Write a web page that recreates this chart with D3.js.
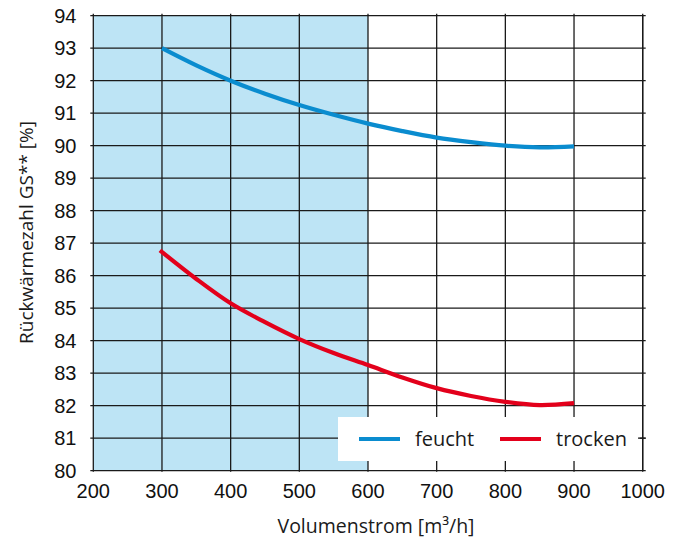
<!DOCTYPE html>
<html><head><meta charset="utf-8">
<script src="https://cdn.jsdelivr.net/npm/d3@7"></script>
<style>body{margin:0;background:#fff}</style>
</head><body>
<svg id="c" width="687" height="543"></svg>
<script>
const xTicks = [200,300,400,500,600,700,800,900,1000];
const yTicks = [80,81,82,83,84,85,86,87,88,89,90,91,92,93,94];
const feuchtX = [300,350,400,450,500,550,600,650,700,750,800,850,900];
const feuchtY = [93.0,92.47,92.0,91.6,91.25,90.95,90.68,90.45,90.25,90.11,90.0,89.95,89.98];
const trockenX = [297,350,400,450,500,550,600,650,700,750,800,850,900];
const trockenY = [86.78,85.9,85.15,84.57,84.05,83.62,83.25,82.87,82.54,82.3,82.12,82.02,82.08];
const shadeRange = [200,600];
const series = [
  {name:"feucht", xs:feuchtX, ys:feuchtY, color:"#0a8ccf"},
  {name:"trocken", xs:trockenX, ys:trockenY, color:"#e3001b"}
];

const svg = d3.select("#c");
const L=93.3, R=642.7, T=15.7, B=470.7;
const x = d3.scaleLinear().domain([200,1000]).range([L,R]);
const y = d3.scaleLinear().domain([80,94]).range([B,T]);

// shaded area
svg.append("rect").attr("x",x(shadeRange[0])).attr("y",T)
  .attr("width",x(shadeRange[1])-x(shadeRange[0])).attr("height",B-T)
  .attr("fill","#bde4f5");

// grid
const g = svg.append("g").attr("stroke","#1a1a1a").attr("stroke-width",1.3);
yTicks.forEach(v=>{
  g.append("line").attr("x1",L-3).attr("x2",R+3).attr("y1",y(v)).attr("y2",y(v));
});
xTicks.forEach(v=>{
  g.append("line").attr("x1",x(v)).attr("x2",x(v)).attr("y1",T-2).attr("y2",B+1);
});

// curves
const line = d3.line().x(d=>x(d[0])).y(d=>y(d[1])).curve(d3.curveCatmullRom);
series.forEach(s=>{
  svg.append("path").datum(s.xs.map((v,i)=>[v,s.ys[i]]))
    .attr("d",line).attr("fill","none").attr("stroke",s.color).attr("stroke-width",4.2);
});

// legend
svg.append("rect").attr("x",338).attr("y",417).attr("width",300).attr("height",44).attr("fill","#fff");
svg.append("line").attr("x1",R-3).attr("x2",R+3).attr("y1",y(81)).attr("y2",y(81)).attr("stroke","#1a1a1a").attr("stroke-width",1.3);
svg.append("line").attr("x1",R).attr("x2",R).attr("y1",T).attr("y2",B).attr("stroke","#1a1a1a").attr("stroke-width",1.3);
const legX = [359,500];
series.forEach((s,i)=>{
  svg.append("line").attr("x1",legX[i]).attr("x2",legX[i]+41).attr("y1",439).attr("y2",439)
    .attr("stroke",s.color).attr("stroke-width",4.2);
  svg.append("text").attr("x",legX[i]+56).attr("y",445.5).text(s.name)
    .attr("font-family","Open Sans").attr("font-size",20).attr("fill","#1a1a1a");
});

// tick labels
const tf = "Liberation Sans";
xTicks.forEach(v=>{
  svg.append("text").attr("x",x(v)).attr("y",497.5).attr("text-anchor","middle")
    .attr("font-family",tf).attr("font-size",20).attr("fill","#111").text(v);
});
yTicks.forEach(v=>{
  svg.append("text").attr("x",76.5).attr("y",y(v)+7.2).attr("text-anchor","end")
    .attr("font-family",tf).attr("font-size",20).attr("fill","#111").text(v);
});

// axis titles
svg.append("text").attr("x",376).attr("y",533).attr("text-anchor","middle")
  .attr("font-family","Open Sans").attr("font-size",19.5).attr("fill","#1a1a1a").text("Volumenstrom [m³/h]");
svg.append("text").attr("transform","translate(33,232.5) rotate(-90)").attr("text-anchor","middle")
  .attr("font-family","Open Sans").attr("font-size",19).attr("fill","#1a1a1a").text("Rückwärmezahl GS** [%]");
</script>
</body></html>
